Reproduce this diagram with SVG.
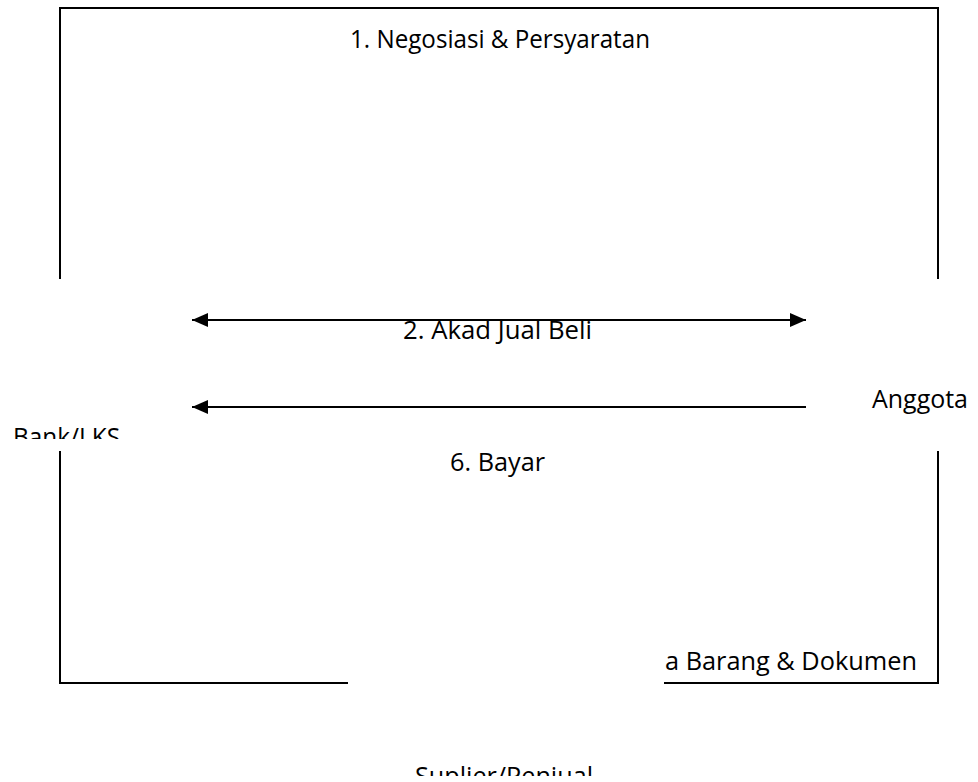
<svg xmlns="http://www.w3.org/2000/svg" width="978" height="782" viewBox="0 0 978 782">
<style>
.ln{stroke:#000;stroke-width:2;fill:none}
.t{font-family:"Open Sans","Liberation Sans",sans-serif;font-size:25px;fill:#000}
</style>
<defs>
<marker id="ah" viewBox="0 0 16 14" refX="16" refY="7" markerWidth="16" markerHeight="14" markerUnits="userSpaceOnUse" orient="auto-start-reverse">
<path d="M0,0 L16,7 L0,14 z" fill="#000"/>
</marker>
<clipPath id="cBank"><rect x="0" y="400" width="200" height="39"/></clipPath>
<clipPath id="cSup"><rect x="380" y="740" width="240" height="36"/></clipPath>
</defs>
<rect width="978" height="782" fill="#fff"/>
<g id="frame">
<path class="ln" d="M60,279 V8 H938 V279"/>
<path class="ln" d="M60,451 V683 H348"/>
<path class="ln" d="M664,683 H938 V451"/>
</g>
<g id="connectors">
<line class="ln" x1="192" y1="320" x2="806" y2="320" marker-start="url(#ah)" marker-end="url(#ah)"/>
<line class="ln" x1="806" y1="407" x2="192" y2="407" marker-end="url(#ah)"/>
</g>
<g id="labels">
<text class="t" x="350" y="48" textLength="300" lengthAdjust="spacingAndGlyphs">1. Negosiasi &amp; Persyaratan</text>
<text class="t" x="403" y="339" textLength="189" lengthAdjust="spacingAndGlyphs">2. Akad Jual Beli</text>
<text class="t" x="450" y="471" textLength="95" lengthAdjust="spacingAndGlyphs">6. Bayar</text>
<text class="t" x="665" y="670" textLength="252" lengthAdjust="spacingAndGlyphs">a Barang &amp; Dokumen</text>
</g>
<g id="node-anggota">
<text class="t" x="872" y="408" textLength="96" lengthAdjust="spacingAndGlyphs">Anggota</text>
</g>
<g id="node-bank" clip-path="url(#cBank)">
<text class="t" x="13" y="446" textLength="107" lengthAdjust="spacingAndGlyphs">Bank/LKS</text>
</g>
<g id="node-suplier" clip-path="url(#cSup)">
<text class="t" x="415" y="785" textLength="178" lengthAdjust="spacingAndGlyphs">Suplier/Penjual</text>
</g>
</svg>
